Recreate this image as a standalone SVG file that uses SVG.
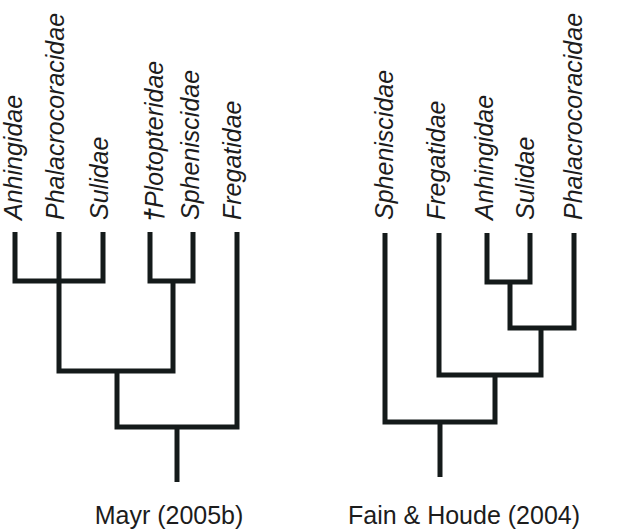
<svg xmlns="http://www.w3.org/2000/svg" width="620" height="531" viewBox="0 0 620 531">
<style>
.bg{fill:#ffffff}
.br{fill:none;stroke:#141a1a;stroke-width:5;stroke-linejoin:miter;stroke-linecap:butt}
.tx{font-family:"Liberation Sans",Arial,sans-serif;font-size:25px;font-style:italic;fill:#1c1c1c}
.dg{font-weight:bold}
.cap{font-family:"Liberation Sans",Arial,sans-serif;font-size:25px;fill:#1c1c1c;text-anchor:middle}
</style>
<rect class="bg" x="0" y="0" width="620" height="531"/>
<g id="mayr-tree">
  <g id="mayr-taxa">
    <g id="m-anhingidae"><text class="tx" transform="translate(22,220) rotate(-90)">Anhingidae</text></g>
    <g id="m-phalacrocoracidae"><text class="tx" transform="translate(64,220) rotate(-90)">Phalacrocoracidae</text></g>
    <g id="m-sulidae"><text class="tx" transform="translate(108,220) rotate(-90)">Sulidae</text></g>
    <g id="m-plotopteridae"><text class="tx" transform="translate(163,222) rotate(-90)"><tspan class="dg">†</tspan>Plotopteridae</text></g>
    <g id="m-spheniscidae"><text class="tx" transform="translate(199,220) rotate(-90)">Spheniscidae</text></g>
    <g id="m-fregatidae"><text class="tx" transform="translate(241,220) rotate(-90)">Fregatidae</text></g>
  </g>
  <g id="mayr-connectors">
    <path class="br" d="M15,232 V281 H103 V232"/>
    <path class="br" d="M59,232 V371 H173 V281"/>
    <path class="br" d="M150,232 V281 H193 V232"/>
    <path class="br" d="M117,371 V427 H237 V232"/>
    <path class="br" d="M177,427 V482"/>
  </g>
  <g id="mayr-caption"><text class="cap" x="169" y="524">Mayr (2005b)</text></g>
</g>
<g id="fain-tree">
  <g id="fain-taxa">
    <g id="f-spheniscidae"><text class="tx" transform="translate(393,220) rotate(-90)">Spheniscidae</text></g>
    <g id="f-fregatidae"><text class="tx" transform="translate(445,220) rotate(-90)">Fregatidae</text></g>
    <g id="f-anhingidae"><text class="tx" transform="translate(493,220) rotate(-90)">Anhingidae</text></g>
    <g id="f-sulidae"><text class="tx" transform="translate(534,220) rotate(-90)">Sulidae</text></g>
    <g id="f-phalacrocoracidae"><text class="tx" transform="translate(582,220) rotate(-90)">Phalacrocoracidae</text></g>
  </g>
  <g id="fain-connectors">
    <path class="br" d="M487,233 V282 H530 V233"/>
    <path class="br" d="M510,282 V328 H574 V233"/>
    <path class="br" d="M541,328 V375 H439 V233"/>
    <path class="br" d="M495,375 V422 H385 V233"/>
    <path class="br" d="M440,422 V477"/>
  </g>
  <g id="fain-caption"><text class="cap" x="464" y="524">Fain &amp; Houde (2004)</text></g>
</g>
</svg>
